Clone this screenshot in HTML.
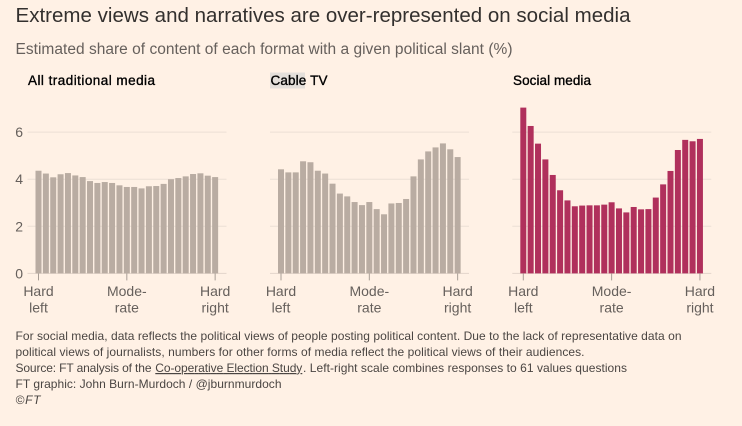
<!DOCTYPE html>
<html lang="en">
<head>
<meta charset="utf-8">
<title>Extreme views and narratives are over-represented on social media</title>
<style>
  html, body { margin: 0; padding: 0; background: #fff1e5; }
  body { width: 742px; height: 426px; overflow: hidden; }
  svg { display: block; font-family: "Liberation Sans", sans-serif; }
  .foot { font-size: 12px; fill: #4a4542; }
  .ptitle { font-size: 13.5px; font-weight: normal; fill: #000; stroke: #000; stroke-width: 0.35px; }
  .tick-label { font-size: 14px; fill: #66605c; }
</style>
</head>
<body>
<svg id="chart" width="742" height="426" viewBox="0 0 742 426" xmlns="http://www.w3.org/2000/svg">
  <rect width="742" height="426" fill="#fff1e5"></rect>
  <text x="15.5" y="22" font-size="20.5" fill="#33302e" textLength="615">Extreme views and narratives are over-represented on social media</text>
  <text x="15.5" y="54" font-size="15.5" fill="#66605c" textLength="497">Estimated share of content of each format with a given political slant (%)</text>

  <rect x="270" y="72.500" width="35" height="16" fill="#e4dfda"></rect>
  <text class="ptitle" x="28" y="85" textLength="127">All traditional media</text>
  <text class="ptitle" x="270.500" y="85" textLength="57">Cable TV</text>
  <text class="ptitle" x="513" y="85" textLength="78">Social media</text>

  <g id="panels"></g>

  <text class="foot" x="15.500" y="340" textLength="666">For social media, data reflects the political views of people posting political content. Due to the lack of representative data on</text>
  <text class="foot" x="15.500" y="356" textLength="569">political views of journalists, numbers for other forms of media reflect the political views of their audiences.</text>
  <text class="foot" x="15.500" y="372" textLength="136">Source: FT analysis of the</text>
  <text class="foot" x="155.300" y="372" textLength="147" text-decoration="underline" fill="#33302e">Co-operative Election Study</text>
  <text class="foot" x="303" y="372" textLength="324">. Left-right scale combines responses to 61 values questions</text>
  <text class="foot" x="15.500" y="388" textLength="266">FT graphic: John Burn-Murdoch / @jburnmurdoch</text>
  <text class="foot" x="15.500" y="404" textLength="25" font-style="italic">©FT</text>
</svg>
<script>
const traditionalValues = [4.36,4.24,4.08,4.21,4.26,4.16,4.09,3.92,3.84,3.88,3.84,3.74,3.67,3.67,3.61,3.70,3.71,3.80,4.00,4.05,4.12,4.22,4.25,4.15,4.09];
const cableValues = [4.42,4.29,4.29,4.76,4.72,4.36,4.24,3.81,3.39,3.27,3.03,2.90,3.03,2.73,2.51,2.97,2.99,3.16,4.12,4.84,5.18,5.35,5.52,5.27,4.94];
const socialValues = [7.04,6.26,5.51,4.84,4.18,3.53,3.10,2.85,2.88,2.89,2.89,2.92,3.02,2.76,2.59,2.82,2.72,2.73,3.22,3.78,4.35,5.24,5.67,5.61,5.71];
const yTicks = [0, 2, 4, 6];
const xTickLabels = [["Hard", "left"], ["Mode-", "rate"], ["Hard", "right"]];
const xTickIndexes = [0, 12, 24];

const NS = "http://www.w3.org/2000/svg";
const root = document.getElementById("panels");
const BASE_Y = 273.4;
const UNIT_Y = 23.55;
const STEP = 7.36;
const BAR_W = 6;

function yScale(v) { return BASE_Y - v * UNIT_Y; }
function xScale(left, i) { return left + 8 + i * STEP; }

function make(tag, attrs) {
  const el = document.createElementNS(NS, tag);
  for (const k in attrs) el.setAttribute(k, attrs[k]);
  return el;
}

function drawPanel(key, values, left, color, showY) {
  const g = make("g", {});
  
  
  root.appendChild(g);

  yTicks.forEach(function (t) {
    const line = make("line", { x1: left, x2: left + 199, y1: yScale(t), y2: yScale(t), stroke: t === 0 ? "#e3d5ca" : "#ecdfd5", "stroke-width": 1 });
    
    
    g.appendChild(line);
    if (showY) {
      const lab = make("text", { x: 23, y: yScale(t) + 5, "text-anchor": "end", "class": "tick-label" });
      
      
      lab.textContent = t;
      g.appendChild(lab);
    }
  });

  values.forEach(function (v, i) {
    const bar = make("rect", { x: xScale(left, i), y: yScale(v), width: BAR_W, height: BASE_Y - yScale(v), fill: color });
    
    
    g.appendChild(bar);
  });

  xTickIndexes.forEach(function (idx, n) {
    const cx = xScale(left, idx) + BAR_W / 2;
    const tick = make("line", { x1: cx, x2: cx, y1: BASE_Y, y2: BASE_Y + 7, stroke: "#a89e96", "stroke-width": 1 });
    
    
    g.appendChild(tick);
    xTickLabels[n].forEach(function (word, line) {
      const lab = make("text", { x: cx, y: 296 + line * 16.500, "text-anchor": "middle", "class": "tick-label" });
      
      
      lab.textContent = word;
      g.appendChild(lab);
    });
  });
}

drawPanel("traditional", traditionalValues, 27.5, "#b9aca2", true);
drawPanel("cable", cableValues, 270, "#b9aca2", false);
drawPanel("social", socialValues, 512.3, "#b0305c", false);
</script>
</body>
</html>
